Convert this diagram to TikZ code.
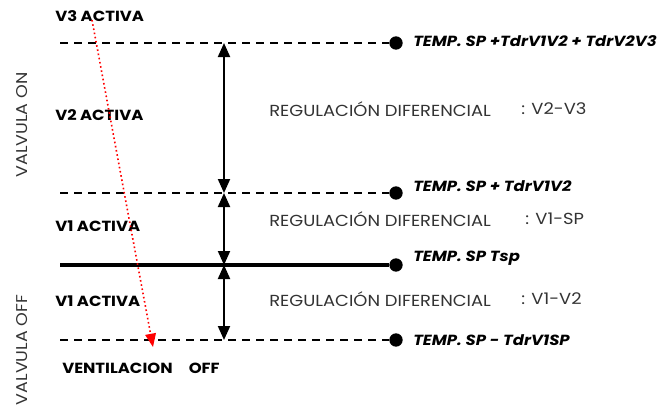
\documentclass[tikz,border=0pt]{standalone}
\usepackage{fontspec}
\setmainfont[FakeStretch=1.12]{Poppins}
\usetikzlibrary{arrows.meta}
\definecolor{textgray}{HTML}{333333}
\tikzset{
  level/.style = {line width=1.5pt, dash pattern=on 6pt off 4.5pt},
  setpoint/.style = {circle, fill, inner sep=0pt, minimum size=10pt},
  state/.style = {font=\bfseries\fontsize{11}{13}\selectfont, anchor=west, inner sep=0pt},
  temp/.style = {font=\bfseries\itshape\fontsize{11}{13}\selectfont, anchor=west, inner sep=0pt},
  regul/.style = {font=\fontsize{12}{14}\selectfont, text=textgray, anchor=west, inner sep=0pt},
  valve/.style = {font=\fontsize{11.7}{14}\selectfont, text=textgray, rotate=90, inner sep=0pt}
}
\tikzset{>={Triangle[width=9pt,length=10.5pt]}}

\begin{document}
\begin{tikzpicture}[x=0.75pt,y=-0.75pt]
  \useasboundingbox (0,0) rectangle (672,405);
  % set points
  \node[setpoint] (d3) at (396,43) {};
  \node[setpoint] (d2) at (396,193) {};
  \node[setpoint] (d0) at (396,265) {};
  \node[setpoint] (d1) at (396,340) {};
  \coordinate (l3) at (60,43);
  \coordinate (l2) at (60,193);
  \coordinate (l0) at (60,265);
  \coordinate (l1) at (60,340);
  % levels
  \draw[level] (l3) -- (d3);
  \draw[level] (l2) -- (d2);
  \draw[line width=2.6pt] (l0) -- (d0);
  \draw[level] (l1) -- (d1);
  % differential arrows
  \coordinate (a3) at (224,43);
  \coordinate (a2) at (224,193);
  \coordinate (a0) at (224,265);
  \coordinate (a1) at (224,340);
  \draw[<->,line width=1.5pt] (a3) -- (a2);
  \draw[<->,line width=1.5pt] (a2) -- (a0);
  \draw[<->,line width=1.5pt] (a0) -- (a1);
  % states
  \node[state] (v3) at (55,16) {V3 ACTIVA};
  \node[state] (v2) at (55,115) {V2 ACTIVA};
  \node[state] (v1a) at (55,226) {V1 ACTIVA};
  \node[state] (v1b) at (55,301) {V1 ACTIVA};
  \node[state] (vent) at (62,368) {VENTILACION\hspace{1.1em}OFF};
  % valve
  \node[valve] (von) at (22,125) {VALVULA ON};
  \node[valve] (voff) at (22,350) {VALVULA OFF};
  % temperatures
  \node[temp] (t3) at (413,41) {TEMP. SP +TdrV1V2 + TdrV2V3};
  \node[temp] (t2) at (413,186) {TEMP. SP + TdrV1V2};
  \node[temp] (t0) at (413,258) {TEMP. SP Tsp};
  \node[temp] (t1) at (413,340) {TEMP. SP - TdrV1SP};
  % regulation
  \node[regul] (r3) at (269,109) {REGULACIÓN DIFERENCIAL};
  \node[regul] (r2) at (269,219) {REGULACIÓN DIFERENCIAL};
  \node[regul] (r1) at (269,299) {REGULACIÓN DIFERENCIAL};
  \node[regul] (c3) at (521,109) {: V2-V3};
  \node[regul] (c2) at (525,219) {: V1-SP};
  \node[regul] (c1) at (521,299) {: V1-V2};
  % sequence
  \coordinate (vs) at (92,20);
  \coordinate (ve) at (153,347);
  \draw[->,red,dotted,line width=1.2pt,>={Triangle[width=8pt,length=10pt]}] (vs) -- (ve);
\end{tikzpicture}
\end{document}
